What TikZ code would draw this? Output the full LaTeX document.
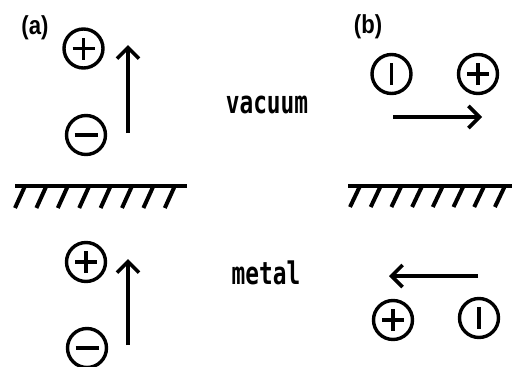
\documentclass[tikz,border=0pt]{standalone}
\usepackage{fontspec}
\usepackage{graphicx}
\setmainfont{Liberation Sans}
\setmonofont{DejaVu Sans Mono}
\usetikzlibrary{arrows.meta}
\tikzset{
  charge/.style={circle, draw, line width=3.4pt, minimum size=39pt, inner sep=0pt},
  sign/.style={line width=3.6pt},
  plus/.style={charge, path picture={
     \draw[sign] ([xshift=-11pt]path picture bounding box.center) -- ([xshift=11pt]path picture bounding box.center);
     \draw[sign] ([yshift=-11pt]path picture bounding box.center) -- ([yshift=11pt]path picture bounding box.center);}},
  minush/.style={charge, path picture={
     \draw[sign] ([xshift=-11.5pt]path picture bounding box.center) -- ([xshift=11.5pt]path picture bounding box.center);}},
  minusv/.style={charge, path picture={
     \draw[sign] ([yshift=-11pt]path picture bounding box.center) -- ([yshift=11pt]path picture bounding box.center);}},
  dipole/.style={line width=3.6pt, -{Straight Barb[length=11pt, width=22pt, line width=3.6pt]}},
  surface/.style={line width=4.5pt},
  hatch/.style={line width=4pt},
  word/.style={font=\ttfamily\bfseries\fontsize{24}{24}\selectfont, inner sep=0pt},
  tag/.style={font=\bfseries\fontsize{26}{26}\selectfont, inner sep=0pt}
}
\begin{document}
\begin{tikzpicture}[x=1pt, y=-1pt]
\useasboundingbox (0,0) rectangle (512,367);
% labels
\node[tag] (la) at (35,28) {\scalebox{0.85}[1]{(a)}};
\node[tag] (lb) at (368,27) {\scalebox{0.85}[1]{(b)}};
\node[word] (vac) at (267,105) {\scalebox{0.95}[1.3]{vacuum}};
\node[word] (met) at (266,273) {\scalebox{0.95}[1.3]{metal}};
% (a) upper
\node[plus] (ap1) at (83.5,48.5) {};
\node[minush] (am1) at (86,135) {};
\coordinate (aa1s) at (128,133);
\coordinate (aa1e) at (128,45);
\draw[dipole] (aa1s) -- (aa1e);
% (a) lower
\node[plus] (ap2) at (86,262) {};
\node[minush] (am2) at (87,348) {};
\coordinate (aa2s) at (128,345);
\coordinate (aa2e) at (128,259);
\draw[dipole] (aa2s) -- (aa2e);
% (b) upper
\node[minusv] (bm1) at (391.5,74) {};
\node[plus] (bp1) at (478,74) {};
\coordinate (ba1s) at (393,117);
\coordinate (ba1e) at (482,117);
\draw[dipole] (ba1s) -- (ba1e);
% (b) lower
\node[plus] (bp2) at (393,320) {};
\node[minusv] (bm2) at (479,318) {};
\coordinate (ba2s) at (478,276);
\coordinate (ba2e) at (389,276);
\draw[dipole] (ba2s) -- (ba2e);
% surfaces
\draw[surface] (15,186) -- (187,186);
\foreach \i in {0,...,7} {
  \draw[hatch] (25+21.4*\i,186) -- (15+21.4*\i,208);
}
\draw[surface] (348,186) -- (512,186);
\foreach \i in {0,...,7} {
  \draw[hatch] (360+20.7*\i,186) -- (350+20.7*\i,207);
}
\end{tikzpicture}
\end{document}
